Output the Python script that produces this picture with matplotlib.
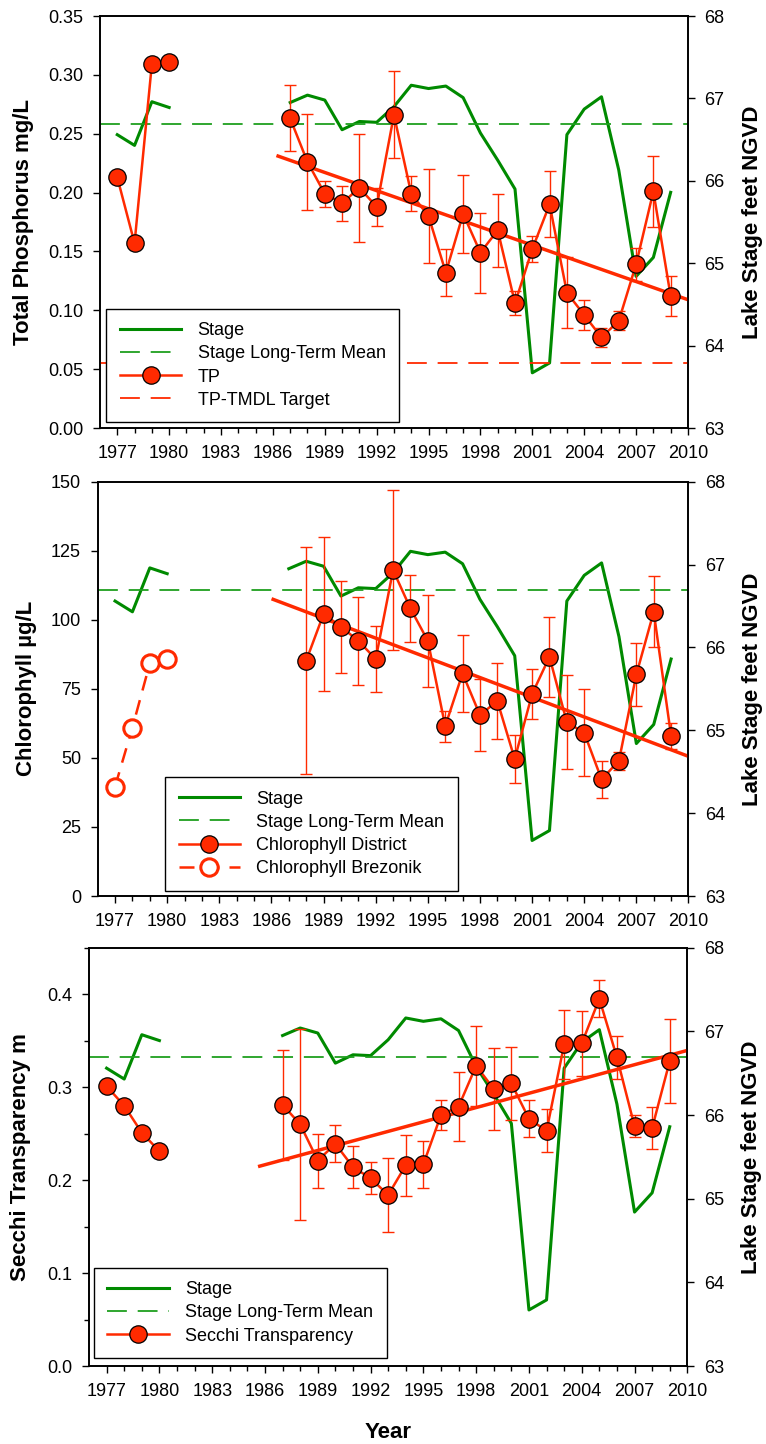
import matplotlib
matplotlib.use("Agg")
import matplotlib.pyplot as plt
from matplotlib.lines import Line2D
import numpy as np

plt.rcParams['font.family'] = ['Liberation Sans', 'DejaVu Sans']

nan = np.nan
years = list(range(1977, 2010))

# lake stage (ft NGVD), gap 1981-1986
stage = [66.56, 66.43, 66.96, 66.89, nan, nan, nan, nan, nan, nan,
         66.95, 67.04, 66.98, 66.62, 66.72, 66.71, 66.90, 67.16, 67.12,
         67.15, 67.01, 66.58, 66.25, 65.90, 63.67, 63.79, 66.56, 66.87,
         67.02, 66.13, 64.84, 65.07, 65.86]
stage_mean = 66.69

# total phosphorus (mg/L)
tp = [0.213, 0.157, 0.309, 0.311, nan, nan, nan, nan, nan, nan,
      0.263, 0.226, 0.199, 0.191, 0.204, 0.188, 0.266, 0.199, 0.180,
      0.132, 0.182, 0.149, 0.168, 0.106, 0.152, 0.190, 0.115, 0.096,
      0.077, 0.091, 0.139, 0.201, 0.112]
tp_err = [nan, nan, nan, nan, nan, nan, nan, nan, nan, nan,
          0.028, 0.041, 0.011, 0.015, 0.046, 0.016, 0.037, 0.015, 0.040,
          0.020, 0.033, 0.034, 0.031, 0.010, 0.011, 0.028, 0.030, 0.013,
          0.008, 0.008, 0.014, 0.030, 0.017]
tp_target = 0.055
tp_trend_x = [1986.3, 2010.0]
tp_trend_y = [0.231, 0.109]

# chlorophyll (ug/L)
chl_district = [nan, nan, nan, nan, nan, nan, nan, nan, nan, nan,
                nan, 85.2, 102.1, 97.5, 92.4, 85.8, 118.0, 104.1, 92.4,
                61.5, 80.6, 65.5, 70.6, 49.6, 73.1, 86.6, 62.9, 59.1,
                42.2, 49.0, 80.2, 102.9, 57.9]
chl_err = [nan, nan, nan, nan, nan, nan, nan, nan, nan, nan,
           nan, 41.0, 28.0, 16.6, 16.0, 12.0, 29.0, 12.3, 16.7,
           5.6, 14.0, 13.0, 13.7, 8.6, 9.0, 14.5, 17.0, 15.7,
           6.8, 3.3, 11.3, 12.8, 4.7]
brez_years = [1977, 1978, 1979, 1980]
chl_brezonik = [39.6, 61.0, 84.2, 85.8]
chl_trend_x = [1986.1, 2009.9]
chl_trend_y = [107.4, 50.8]

# secchi transparency (m)
secchi = [0.301, 0.280, 0.251, 0.231, nan, nan, nan, nan, nan, nan,
          0.281, 0.260, 0.221, 0.239, 0.214, 0.202, 0.184, 0.216, 0.217,
          0.270, 0.279, 0.323, 0.298, 0.304, 0.266, 0.253, 0.346, 0.347,
          0.395, 0.332, 0.258, 0.256, 0.328]
secchi_err = [nan, nan, nan, nan, nan, nan, nan, nan, nan, nan,
              0.059, 0.103, 0.029, 0.020, 0.023, 0.017, 0.040, 0.033, 0.025,
              0.016, 0.037, 0.043, 0.044, 0.039, 0.020, 0.023, 0.037, 0.035,
              0.020, 0.023, 0.012, 0.023, 0.045]
secchi_trend_x = [1985.7, 2009.9]
secchi_trend_y = [0.215, 0.339]

xticks = list(range(1977, 2011, 3))

RED = '#ff2a00'
GREEN = '#008a00'
GREEN2 = '#1f9f1f'
FS = 13
LFS = 16


def style_axes(ax, ax2):
    for a in (ax, ax2):
        for s in a.spines.values():
            s.set_linewidth(1.2)
        a.tick_params(direction='out', length=5, width=1, labelsize=FS, pad=7)
        a.tick_params(which='minor', direction='out', length=3.5, width=1)
    ax.set_xlim(1976, 2010)
    ax.set_xticks(xticks)
    ax.set_xticks(years, minor=True)
    ax2.set_ylim(63, 68)
    ax2.set_yticks([63, 64, 65, 66, 67, 68])
    ax2.set_ylabel('Lake Stage feet NGVD', fontsize=LFS, fontweight='bold', labelpad=12)
    ax.set_zorder(ax2.get_zorder() + 1)
    ax.patch.set_visible(False)


def draw_stage(ax2):
    ax2.plot(years, stage, color=GREEN, lw=2.2)
    ax2.axhline(stage_mean, color=GREEN2, lw=1.3, dashes=(11, 6))


def stage_handles():
    return [Line2D([], [], color=GREEN, lw=2.2),
            Line2D([], [], color=GREEN2, lw=1.3, dashes=(11, 6))]


def add_legend(ax, handles, labels, anchor):
    leg = ax.legend(handles, labels, loc='lower left', bbox_to_anchor=anchor,
                    borderaxespad=0, fontsize=FS, handlelength=3.4,
                    handletextpad=0.9, labelspacing=0.34, borderpad=0.75,
                    numpoints=1, fancybox=False, framealpha=1)
    leg.get_frame().set_edgecolor('black')
    leg.get_frame().set_linewidth(1)


def draw_series(ax, vals, errs):
    ax.errorbar(years, vals, yerr=errs, fmt='none', ecolor=RED, elinewidth=1,
                capsize=4, capthick=1)
    ax.plot(years, vals, color=RED, lw=1.8, marker='o', ms=12.5,
            mfc=RED, mec='black', mew=0.9)


fig = plt.figure(figsize=(7.66, 14.44), dpi=100)

# panel 1 - total phosphorus
ax = fig.add_axes([0.1305, 0.7036, 0.7676, 0.2853])
ax2 = ax.twinx()
draw_stage(ax2)
ax.axhline(tp_target, color=RED, lw=1.3, dashes=(11, 6))
ax.plot(tp_trend_x, tp_trend_y, color=RED, lw=2.5)
draw_series(ax, tp, tp_err)
ax.set_ylim(0, 0.35)
ax.set_yticks(np.arange(0, 0.351, 0.05))
ax.yaxis.set_major_formatter(plt.FormatStrFormatter('%.2f'))
ax.set_ylabel('Total Phosphorus mg/L', fontsize=LFS, fontweight='bold', labelpad=10)
style_axes(ax, ax2)
add_legend(ax, stage_handles() + [
    Line2D([], [], color=RED, lw=1.8, marker='o', ms=12.5, mfc=RED, mec='black', mew=0.9),
    Line2D([], [], color=RED, lw=1.3, dashes=(11, 6))],
    ['Stage', 'Stage Long-Term Mean', 'TP', 'TP-TMDL Target'], (0.011, 0.014))

# panel 2 - chlorophyll
ax = fig.add_axes([0.1275, 0.3795, 0.7713, 0.2869])
ax2 = ax.twinx()
draw_stage(ax2)
ax.plot(chl_trend_x, chl_trend_y, color=RED, lw=2.5)
draw_series(ax, chl_district, chl_err)
ax.plot(brez_years, chl_brezonik, color=RED, lw=1.8, dashes=(6, 4), marker='o',
        ms=12.5, mfc='white', mec=RED, mew=2.2)
ax.set_ylim(0, 150)
ax.set_yticks(range(0, 151, 25))
ax.set_ylabel('Chlorophyll \u00b5g/L', fontsize=LFS, fontweight='bold', labelpad=10)
style_axes(ax, ax2)
add_legend(ax, stage_handles() + [
    Line2D([], [], color=RED, lw=1.8, marker='o', ms=12.5, mfc=RED, mec='black', mew=0.9),
    Line2D([], [], color=RED, lw=1.8, dashes=(6, 4), marker='o', ms=12.5,
           mfc='white', mec=RED, mew=2.2)],
    ['Stage', 'Stage Long-Term Mean', 'Chlorophyll District', 'Chlorophyll Brezonik'],
    (0.114, 0.013))

# panel 3 - secchi
ax = fig.add_axes([0.1162, 0.054, 0.7811, 0.2897])
ax2 = ax.twinx()
draw_stage(ax2)
ax.plot(secchi_trend_x, secchi_trend_y, color=RED, lw=2.5)
draw_series(ax, secchi, secchi_err)
ax.set_ylim(0, 0.45)
ax.set_yticks([0.0, 0.1, 0.2, 0.3, 0.4])
ax.set_yticks(np.arange(0.05, 0.46, 0.1), minor=True)
ax.set_ylabel('Secchi Transparency m', fontsize=LFS, fontweight='bold', labelpad=12)
ax.set_xlabel('Year', fontsize=LFS, fontweight='bold', labelpad=16)
style_axes(ax, ax2)
add_legend(ax, stage_handles() + [
    Line2D([], [], color=RED, lw=1.8, marker='o', ms=12.5, mfc=RED, mec='black', mew=0.9)],
    ['Stage', 'Stage Long-Term Mean', 'Secchi Transparency'], (0.008, 0.019))

fig.savefig('out.png', dpi=100)
